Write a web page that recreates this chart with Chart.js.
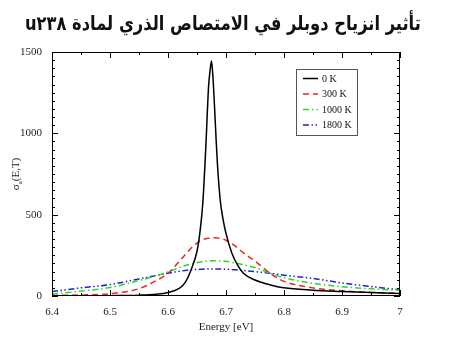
<!DOCTYPE html>
<html>
<head>
<meta charset="utf-8">
<script src="https://cdn.jsdelivr.net/npm/chart.js@4.4.1/dist/chart.umd.min.js"></script>
<style>
    html, body { margin: 0; padding: 0; background: #fff; }
    #wrap { position: relative; width: 450px; height: 348px; overflow: hidden; }
    #title {
        position: absolute; left: -202px; top: 11px; width: 850px;
        text-align: center; font: bold 20px "DejaVu Sans", sans-serif;
        color: #111; white-space: nowrap; line-height: 1.2;
    }
    #titleText { display: inline-block; transform-origin: 50% 50%; }
    #myChart { position: absolute; left: 0; top: 0; }
</style>
</head>
<body>
<div id="wrap">
    <canvas id="myChart" width="450" height="348"></canvas>
    <div id="title" dir="rtl"><span id="titleText">تأثير انزياح دوبلر في الامتصاص الذري لمادة u٢٣٨</span></div>
</div>
<script>
// 에너지 (eV)
const energies = [6.40, 6.45, 6.50, 6.55, 6.58, 6.60, 6.62, 6.63, 6.64, 6.65,
    6.655, 6.66, 6.665, 6.67, 6.6725, 6.675, 6.6775, 6.68, 6.6825, 6.685,
    6.69, 6.695, 6.70, 6.71, 6.72, 6.73, 6.75, 6.78, 6.80, 6.85,
    6.90, 6.95, 7.00];

// 온도별 흡수 단면적
const sigma0K = [0, 1, 2, 5, 11, 22, 48, 85, 163, 275,
    390, 570, 900, 1290, 1385, 1445, 1345, 1180, 995, 825,
    590, 470, 385, 265, 190, 140, 98, 65, 50, 36,
    28, 21, 15];
const sigma300K = [3, 6, 14, 45, 95, 140, 215, 255, 295, 325,
    338, 346, 352, 355, 356, 357, 357, 358, 358, 357,
    354, 350, 343, 322, 295, 265, 215, 130, 90, 50,
    32, 22, 16];
const sigma1000K = [12, 30, 52, 95, 125, 148, 175, 187, 197, 205,
    208, 211, 213, 215, 215, 216, 216, 217, 217, 217,
    216, 215, 213, 207, 200, 192, 175, 135, 112, 78,
    57, 44, 36];
const sigma1800K = [28, 50, 70, 105, 126, 140, 152, 157, 161, 163,
    164, 165, 166, 166, 166, 166, 166, 166, 166, 166,
    166, 165, 165, 163, 160, 157, 150, 138, 128, 108,
    80, 58, 38];

const tempLabels = ['0 K', '300 K', '1000 K', '1800 K'];
const xTicks = [6.4, 6.5, 6.6, 6.7, 6.8, 6.9, 7.0];
const yTicks = [0, 500, 1000, 1500];

// 제목 폭 맞추기 (가로로만 줄임)
(function () {
    const s = document.getElementById('titleText');
    const w = s.offsetWidth;
    if (w > 396) s.style.transform = 'scaleX(' + (396 / w) + ')';
})();

function points(values) {
    return energies.map(function (e, i) { return { x: e, y: values[i] }; });
}

const serif = '"Liberation Serif", "DejaVu Serif", serif';

// 프레임 + 안쪽 눈금 + 범례 + y축 제목
const framePlugin = {
    id: 'frame',
    afterDraw: function (chart) {
        const ctx = chart.ctx;
        const a = chart.chartArea;
        const xs = chart.scales.x;
        const ys = chart.scales.y;
        ctx.save();
        ctx.strokeStyle = '#000';
        ctx.lineWidth = 1;
        ctx.strokeRect(a.left + 0.5, a.top + 0.5, a.right - a.left - 1, a.bottom - a.top - 1);

        ctx.beginPath();
        for (let v = 6.4; v <= 7.0001; v += 0.05) {
            const px = Math.round(xs.getPixelForValue(v)) + 0.5;
            const major = Math.abs(v * 10 - Math.round(v * 10)) < 1e-6;
            const len = major ? 6 : 3;
            ctx.moveTo(px, a.bottom); ctx.lineTo(px, a.bottom - len);
            ctx.moveTo(px, a.top); ctx.lineTo(px, a.top + len);
        }
        for (let v = 0; v <= 1500; v += 50) {
            const py = Math.round(ys.getPixelForValue(v)) + 0.5;
            const len = (v % 500 === 0) ? 6 : 3;
            ctx.moveTo(a.left, py); ctx.lineTo(a.left + len, py);
            ctx.moveTo(a.right, py); ctx.lineTo(a.right - len, py);
        }
        ctx.stroke();

        // 범례
        const lx = 296, ly = 69, lw = 61, lh = 66;
        ctx.strokeStyle = '#555';
        ctx.strokeRect(lx + 0.5, ly + 0.5, lw, lh);
        ctx.font = '10px ' + serif;
        ctx.textBaseline = 'middle';
        ctx.textAlign = 'left';
        chart.data.datasets.forEach(function (ds, i) {
            const y = ly + 9.5 + i * 15.5;
            ctx.strokeStyle = ds.borderColor;
            ctx.lineWidth = 1.5;
            ctx.setLineDash(ds.borderDash || []);
            ctx.beginPath();
            ctx.moveTo(lx + 7, y); ctx.lineTo(lx + 22, y);
            ctx.stroke();
            ctx.setLineDash([]);
            ctx.fillStyle = '#111';
            ctx.fillText(ds.label, lx + 26, y + 0.5);
        });

        // y축 제목 σa(E,T)
        ctx.translate(16, (a.top + a.bottom) / 2);
        ctx.rotate(-Math.PI / 2);
        ctx.fillStyle = '#222';
        ctx.font = '11px ' + serif;
        const w1 = ctx.measureText('σ').width;
        ctx.font = '7px ' + serif;
        const w2 = ctx.measureText('a').width;
        ctx.font = '11px ' + serif;
        const w3 = ctx.measureText('(E,T)').width;
        let x0 = -(w1 + w2 + w3) / 2;
        ctx.textBaseline = 'alphabetic';
        ctx.fillText('σ', x0, 3);
        ctx.font = '7px ' + serif;
        ctx.fillText('a', x0 + w1, 6);
        ctx.font = '11px ' + serif;
        ctx.fillText('(E,T)', x0 + w1 + w2, 3);
        ctx.restore();
    }
};

new Chart(document.getElementById('myChart').getContext('2d'), {
    type: 'line',
    data: {
        datasets: [{
            label: tempLabels[0],
            data: points(sigma0K),
            borderColor: '#000000',
            borderWidth: 1.5,
        }, {
            label: tempLabels[1],
            data: points(sigma300K),
            borderColor: '#ee2222',
            borderWidth: 1.5,
            borderDash: [6, 4],
        }, {
            label: tempLabels[2],
            data: points(sigma1000K),
            borderColor: '#22dd22',
            borderWidth: 1.5,
            borderDash: [6, 3, 1.5, 3],
        }, {
            label: tempLabels[3],
            data: points(sigma1800K),
            borderColor: '#2222cc',
            borderWidth: 1.5,
            borderDash: [6, 2.5, 1.5, 2.5, 1.5, 2.5],
        }]
    },
    options: {
        responsive: false,
        animation: false,
        events: [],
        layout: { padding: { left: 0, right: 50, top: 52, bottom: 14 } },
        elements: {
            point: { radius: 0 },
            line: { cubicInterpolationMode: 'monotone', fill: false },
        },
        plugins: {
            legend: { display: false },
            tooltip: { enabled: false },
        },
        scales: {
            x: {
                type: 'linear',
                min: 6.4,
                max: 7.0,
                afterBuildTicks: function (s) { s.ticks = xTicks.map(function (v) { return { value: v }; }); },
                afterFit: function (s) { s.height = 38; },
                grid: { display: false },
                border: { display: false },
                ticks: {
                    padding: 2,
                    color: '#222',
                    font: { family: serif, size: 11 },
                    callback: function (v) { return String(parseFloat(Number(v).toFixed(1))); },
                },
                title: {
                    display: true,
                    text: 'Energy [eV]',
                    color: '#222',
                    font: { family: serif, size: 11 },
                    padding: 0,
                },
            },
            y: {
                min: 0,
                max: 1500,
                afterBuildTicks: function (s) { s.ticks = yTicks.map(function (v) { return { value: v }; }); },
                afterFit: function (s) { s.width = 52; },
                grid: { display: false },
                border: { display: false },
                ticks: {
                    padding: 2,
                    color: '#222',
                    font: { family: serif, size: 11 },
                    callback: function (v) { return String(v); },
                },
            },
        },
    },
    plugins: [framePlugin],
});
</script>
</body>
</html>
